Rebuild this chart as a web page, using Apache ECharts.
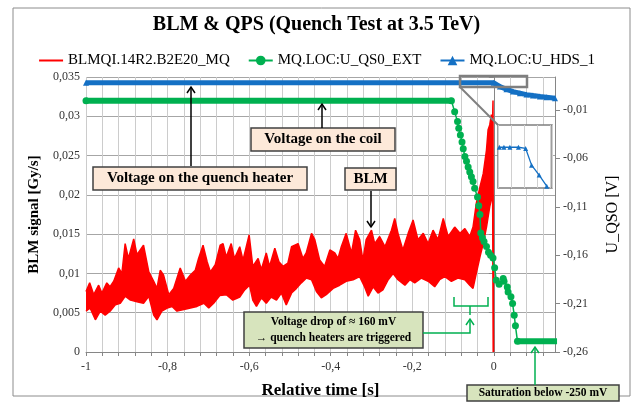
<!DOCTYPE html>
<html>
<head>
<meta charset="utf-8">
<script src="https://cdn.jsdelivr.net/npm/echarts@6/dist/echarts.min.js"></script>
<style>
  html, body { margin: 0; padding: 0; background: #fff; }
  #myChart { width: 633px; height: 408px; }
</style>
</head>
<body>
<div id="myChart"></div>
<script>
  // BLM signal envelope [t, Gy/s] (upper / lower edge of the noisy band)
  var blmUpper = [[-1.0,0.0077],[-0.991,0.0088],[-0.981,0.0073],[-0.969,0.0085],[-0.961,0.0075],[-0.949,0.0088],[-0.941,0.0083],[-0.932,0.0090],[-0.920,0.0107],[-0.912,0.0100],[-0.904,0.0138],[-0.896,0.0119],[-0.883,0.0144],[-0.875,0.0124],[-0.859,0.0136],[-0.846,0.0102],[-0.834,0.0090],[-0.826,0.0081],[-0.818,0.0104],[-0.810,0.0098],[-0.797,0.0073],[-0.785,0.0081],[-0.777,0.0094],[-0.769,0.0107],[-0.756,0.0090],[-0.744,0.0098],[-0.732,0.0104],[-0.724,0.0119],[-0.713,0.0136],[-0.703,0.0115],[-0.695,0.0102],[-0.683,0.0111],[-0.671,0.0136],[-0.664,0.0138],[-0.656,0.0121],[-0.644,0.0138],[-0.636,0.0119],[-0.623,0.0134],[-0.615,0.0117],[-0.600,0.0149],[-0.591,0.0109],[-0.578,0.0119],[-0.570,0.0105],[-0.558,0.0126],[-0.550,0.0109],[-0.537,0.0132],[-0.527,0.0115],[-0.517,0.0109],[-0.505,0.0113],[-0.496,0.0134],[-0.480,0.0138],[-0.468,0.0119],[-0.460,0.0126],[-0.447,0.0151],[-0.439,0.0143],[-0.427,0.0117],[-0.415,0.0109],[-0.402,0.0130],[-0.390,0.0126],[-0.382,0.0119],[-0.374,0.0134],[-0.362,0.0151],[-0.349,0.0126],[-0.339,0.0155],[-0.329,0.0143],[-0.321,0.0117],[-0.313,0.0143],[-0.300,0.0155],[-0.292,0.0138],[-0.280,0.0147],[-0.267,0.0134],[-0.251,0.0155],[-0.243,0.0170],[-0.235,0.0151],[-0.223,0.0130],[-0.210,0.0151],[-0.198,0.0168],[-0.186,0.0143],[-0.173,0.0151],[-0.161,0.0138],[-0.149,0.0155],[-0.137,0.0143],[-0.124,0.0170],[-0.112,0.0147],[-0.096,0.0159],[-0.083,0.0151],[-0.071,0.0157],[-0.059,0.0147],[-0.051,0.0159],[-0.043,0.0189],[-0.034,0.0210],[-0.026,0.0227],[-0.018,0.0257],[-0.014,0.0283],[-0.010,0.0289],[-0.006,0.0302],[-0.003,0.0295],[-0.002,0.0320],[-0.001,0]];
  var blmLower = [[-1.0,0.0052],[-0.990,0.0056],[-0.977,0.0041],[-0.965,0.0052],[-0.953,0.0047],[-0.941,0.0052],[-0.928,0.0060],[-0.916,0.0062],[-0.904,0.0071],[-0.891,0.0066],[-0.875,0.0064],[-0.859,0.0062],[-0.846,0.0071],[-0.834,0.0047],[-0.826,0.0041],[-0.814,0.0052],[-0.801,0.0056],[-0.789,0.0058],[-0.777,0.0052],[-0.760,0.0054],[-0.744,0.0056],[-0.728,0.0058],[-0.711,0.0062],[-0.699,0.0056],[-0.687,0.0062],[-0.672,0.0072],[-0.656,0.0073],[-0.640,0.0066],[-0.623,0.0070],[-0.611,0.0079],[-0.599,0.0085],[-0.591,0.0066],[-0.582,0.0058],[-0.570,0.0069],[-0.558,0.0062],[-0.546,0.0070],[-0.533,0.0066],[-0.521,0.0075],[-0.509,0.0060],[-0.496,0.0075],[-0.484,0.0081],[-0.472,0.0088],[-0.460,0.0094],[-0.447,0.0092],[-0.435,0.0077],[-0.423,0.0069],[-0.411,0.0073],[-0.394,0.0081],[-0.378,0.0085],[-0.362,0.0090],[-0.345,0.0092],[-0.329,0.0096],[-0.317,0.0083],[-0.308,0.0071],[-0.296,0.0083],[-0.284,0.0075],[-0.272,0.0079],[-0.259,0.0092],[-0.247,0.0100],[-0.235,0.0092],[-0.218,0.0085],[-0.206,0.0092],[-0.194,0.0088],[-0.178,0.0094],[-0.161,0.0090],[-0.145,0.0083],[-0.133,0.0092],[-0.120,0.0096],[-0.104,0.0090],[-0.088,0.0094],[-0.071,0.0092],[-0.059,0.0085],[-0.051,0.0081],[-0.043,0.0100],[-0.034,0.0121],[-0.026,0.0138],[-0.018,0.0159],[-0.010,0.0185],[-0.006,0.0194],[-0.003,0.0200],[-0.001,0]];

  // MQ.LOC:U_QS0_EXT [t, V]
  var qs0 = [[-1.0,-0.0004],[-0.104,-0.0004],[-0.096,-0.012],[-0.089,-0.022],[-0.086,-0.029],[-0.082,-0.036],[-0.078,-0.043],[-0.075,-0.050],[-0.071,-0.058],[-0.067,-0.063],[-0.063,-0.069],[-0.059,-0.074],[-0.055,-0.079],[-0.051,-0.084],[-0.047,-0.091],[-0.040,-0.100],[-0.037,-0.109],[-0.034,-0.118],[-0.032,-0.137],[-0.028,-0.142],[-0.024,-0.146],[-0.018,-0.151],[-0.013,-0.157],[-0.008,-0.160],[-0.002,-0.163],[0.002,-0.173],[0.006,-0.186],[0.013,-0.190],[0.023,-0.184],[0.025,-0.187],[0.033,-0.193],[0.035,-0.198],[0.042,-0.203],[0.046,-0.210],[0.050,-0.222],[0.053,-0.233],[0.058,-0.249],[0.155,-0.249]];

  // MQ.LOC:U_HDS_1 [t, V]
  var hds = [[-1.0,0.0180],[0.0,0.0180],[0.015,0.0141],[0.031,0.0114],[0.047,0.0089],[0.064,0.0073],[0.080,0.0058],[0.096,0.0048],[0.113,0.0038],[0.129,0.0031],[0.150,0.0021]];
  // zoomed inset of U_HDS_1 around t = 0
  var hdsZoom = [[-0.079,0.0180],[-0.065,0.0180],[-0.047,0.0180],[-0.021,0.0180],[0.001,0.0178],[0.019,0.0151],[0.042,0.0135],[0.065,0.0117]];

  var rightTicks = [-0.26, -0.21, -0.16, -0.11, -0.06, -0.01];

  var serif = "'Liberation Serif', 'Times New Roman', serif";
  var fmt = function (v) { return String(v).replace('.', ','); };

  function box(x, y, w, h, fill, text, size) {
    return [
      { type: 'rect', z: 20, shape: { x: x, y: y, width: w, height: h },
        style: { fill: fill, stroke: '#404040', lineWidth: 1.5 } },
      { type: 'text', z: 21, x: x + w / 2, y: y + h / 2,
        style: { text: text, font: 'bold ' + size + 'px ' + serif, fill: '#000',
                 align: 'center', verticalAlign: 'middle', lineHeight: size + 5 } }
    ];
  }
  function arrow(x1, y1, x2, y2, color) {
    var d = y2 < y1 ? 6 : -6;
    return [
      { type: 'line', z: 20, shape: { x1: x1, y1: y1, x2: x2, y2: y2 }, style: { stroke: color, lineWidth: 1.5 } },
      { type: 'polyline', z: 20, shape: { points: [[x2 - 4, y2 + d], [x2, y2], [x2 + 4, y2 + d]] },
        style: { stroke: color, lineWidth: 1.5, fill: null } }
    ];
  }

  var green = '#00b050', blue = '#1470c4', red = '#ff0000';

  var graphics = [].concat(
    [{ type: 'rect', z: 0, shape: { x: 13, y: 8, width: 617, height: 388 }, style: { fill: null, stroke: '#8c8c8c', lineWidth: 1 } }],
    // zoom frame, connector and inset background
    [{ type: 'rect', z: 20, shape: { x: 460, y: 76, width: 67, height: 11 }, style: { fill: null, stroke: '#7f7f7f', lineWidth: 2.5 } },
     { type: 'line', z: 20, shape: { x1: 460, y1: 87, x2: 498, y2: 125 }, style: { stroke: '#7f7f7f', lineWidth: 2 } },
     { type: 'rect', z: 4, shape: { x: 498, y: 125, width: 54, height: 63 }, style: { fill: '#fff', stroke: '#7f7f7f', lineWidth: 1.5 } }],
    box(93, 167, 214, 23, '#fde9d9', 'Voltage on the quench heater', 15),
    box(251, 128, 144, 23, '#fde9d9', 'Voltage on the coil', 15),
    box(345, 168, 51, 22, '#fde9d9', 'BLM', 15),
    box(244, 312, 179, 36, '#d7e4bd', 'Voltage drop of \u2248 160 mV\n\u2192 quench heaters are triggered', 11.5),
    box(467, 385, 152, 16, '#d7e4bd', 'Saturation below -250 mV', 11.5),
    arrow(191, 166, 191, 87, '#000'),
    arrow(322, 128, 322, 104, '#000'),
    arrow(371, 191, 371, 227, '#000'),
    [{ type: 'polyline', z: 20, shape: { points: [[454, 297], [454, 306], [488, 306], [488, 297]] }, style: { stroke: green, lineWidth: 1.5, fill: null } },
     { type: 'line', z: 20, shape: { x1: 470, y1: 306, x2: 470, y2: 315 }, style: { stroke: green, lineWidth: 1.5 } },
     { type: 'polyline', z: 20, shape: { points: [[423, 333], [470, 333], [470, 319]] }, style: { stroke: green, lineWidth: 1.5, fill: null } },
     { type: 'polyline', z: 20, shape: { points: [[466, 325], [470, 319], [474, 325]] }, style: { stroke: green, lineWidth: 1.5, fill: null } }],
    arrow(535, 385, 535, 347, green)
  );

  var myChart = echarts.init(document.getElementById('myChart'));
  var option = {
    animation: false,
    title: {
      text: 'BLM & QPS (Quench Test at 3.5 TeV)',
      left: 'center', top: 10,
      textStyle: { fontFamily: serif, fontWeight: 'bold', fontSize: 20, color: '#000' }
    },
    legend: {
      data: [
        { name: 'BLMQI.14R2.B2E20_MQ', itemStyle: { opacity: 0 } },
        'MQ.LOC:U_QS0_EXT', 'MQ.LOC:U_HDS_1'
      ],
      left: 'center', top: 48, itemWidth: 24, itemHeight: 12, itemGap: 18,
      textStyle: { fontFamily: serif, fontSize: 15, color: '#000' }
    },
    grid: [
      { left: 86, top: 77, right: 78, bottom: 56 },
      { left: 498, top: 125, width: 54, height: 63 }
    ],
    xAxis: [{
      type: 'value', min: -1, max: 0.15, interval: 0.04,
      name: 'Relative time [s]', nameLocation: 'middle', nameGap: 30,
      nameTextStyle: { fontFamily: serif, fontWeight: 'bold', fontSize: 17, color: '#000' },
      axisLine: { onZero: false, lineStyle: { color: '#868686' } },
      axisTick: { show: true, length: 4, lineStyle: { color: '#868686' } },
      axisLabel: {
        fontFamily: serif, fontSize: 12, color: '#333', margin: 9, showMaxLabel: false,
        formatter: function (v) {
          if (v > 0.001) return '';
          var k = v * 5;
          if (Math.abs(k - Math.round(k)) > 1e-6) return '';
          return fmt(Math.round(v * 10) / 10);
        }
      },
      splitLine: { show: true, lineStyle: { color: '#cccccc', width: 1 } }
    }, {
      type: 'value', gridIndex: 1, min: -0.083, max: 0.081, interval: 0.04, z: 5,
      axisLine: { show: false }, axisTick: { show: false }, axisLabel: { show: false },
      splitLine: { show: true, lineStyle: { color: '#d0d0d0' } }
    }],
    yAxis: [{
      type: 'value', min: 0, max: 0.035, interval: 0.005,
      name: 'BLM signal [Gy/s]', nameLocation: 'middle', nameRotate: 90, nameGap: 44,
      nameTextStyle: { fontFamily: serif, fontWeight: 'bold', fontSize: 15, color: '#000' },
      axisLine: { show: true, lineStyle: { color: '#868686' } },
      axisTick: { show: true, length: 5, lineStyle: { color: '#868686' } },
      axisLabel: { fontFamily: serif, fontSize: 12, color: '#333', margin: 6,
        formatter: function (v) { return fmt(Math.round(v * 1000) / 1000); } },
      splitLine: { show: true, lineStyle: { color: '#a6a6a6' } }
    }, {
      type: 'value', position: 'right', min: -0.26, max: 0.024, interval: 0.05,
      name: 'U_QSO [V]', nameLocation: 'middle', nameRotate: 90, nameGap: 50,
      nameTextStyle: { fontFamily: serif, fontSize: 16, color: '#000' },
      axisLine: { show: true, lineStyle: { color: '#868686' } },
      axisTick: { show: true, length: 5, customValues: rightTicks, lineStyle: { color: '#868686' } },
      axisLabel: { fontFamily: serif, fontSize: 12, color: '#333', margin: 8, customValues: rightTicks,
        formatter: function (v) { return fmt(Math.round(v * 100) / 100); } },
      splitLine: { show: false }
    }, {
      type: 'value', gridIndex: 1, min: 0.0114, max: 0.0216,
      axisLine: { show: false }, axisTick: { show: false }, axisLabel: { show: false }, splitLine: { show: false }
    }],
    series: [
      {
        name: 'blmBand', type: 'custom', coordinateSystem: 'cartesian2d',
        xAxisIndex: 0, yAxisIndex: 0, data: [[-1, 0]], encode: { x: 0, y: 1 },
        renderItem: function (params, api) {
          var pts = blmUpper.map(function (p) { return api.coord(p); });
          for (var i = blmLower.length - 1; i >= 0; i--) pts.push(api.coord(blmLower[i]));
          return { type: 'polygon', shape: { points: pts }, style: { fill: red } };
        }
      },
      {
        name: 'BLMQI.14R2.B2E20_MQ', type: 'line', symbol: 'none', data: blmUpper,
        lineStyle: { color: red, width: 1.5 }, itemStyle: { color: red }
      },
      {
        name: 'blmLowerEdge', type: 'line', symbol: 'none', data: blmLower,
        lineStyle: { color: red, width: 1.5 }
      },
      {
        name: 'qs0Band1', type: 'line', yAxisIndex: 1, symbol: 'none', data: qs0.slice(0, 2),
        lineStyle: { color: green, width: 6 }
      },
      {
        name: 'qs0Band2', type: 'line', yAxisIndex: 1, symbol: 'none', data: qs0.slice(-2),
        lineStyle: { color: green, width: 6 }
      },
      {
        name: 'MQ.LOC:U_QS0_EXT', type: 'line', yAxisIndex: 1, data: qs0,
        symbol: 'circle', symbolSize: 7, showAllSymbol: true,
        lineStyle: { color: green, width: 1.5 }, itemStyle: { color: green }
      },
      {
        name: 'hdsBand', type: 'line', yAxisIndex: 1, symbol: 'none', data: hds,
        lineStyle: { color: blue, width: 5 }
      },
      {
        name: 'MQ.LOC:U_HDS_1', type: 'line', yAxisIndex: 1, data: hds,
        symbol: 'triangle', symbolSize: 6, showAllSymbol: true,
        lineStyle: { color: blue, width: 2 }, itemStyle: { color: blue }
      },
      {
        name: 'hdsZoom', type: 'line', xAxisIndex: 1, yAxisIndex: 2, data: hdsZoom, z: 6,
        symbol: 'triangle', symbolSize: 5, showAllSymbol: true,
        lineStyle: { color: blue, width: 1.3 }, itemStyle: { color: blue }
      }
    ],
    graphic: { elements: graphics }
  };
  myChart.setOption(option);
</script>
</body>
</html>
